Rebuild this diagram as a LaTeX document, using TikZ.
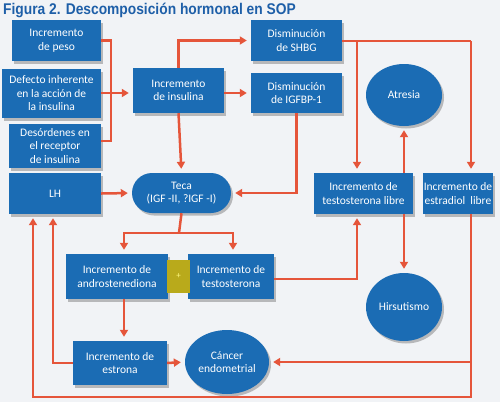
\documentclass[tikz,border=0pt]{standalone}
\usepackage{fontspec}
\usepackage{graphicx}
\setmainfont{Carlito}
\newfontfamily\titlefont{Liberation Sans}
\usetikzlibrary{arrows.meta,shadows,shapes.geometric,calc}
\definecolor{bg}{HTML}{F1F3F6}
\definecolor{boxblue}{HTML}{1B6CB4}
\definecolor{lineor}{HTML}{E5553A}
\definecolor{plusy}{HTML}{B9AA1B}
\definecolor{titleblue}{HTML}{1E5FA8}
\tikzset{
  box/.style={fill=boxblue, text=white, align=center, inner sep=1pt,
    font=\fontsize{11.5}{13.5}\selectfont,
    drop shadow={shadow xshift=2pt, shadow yshift=-2.5pt, opacity=0.35, fill=black!70}},
  oval/.style={box, ellipse},
  conn/.style={draw=lineor, line width=2.5pt},
  arr/.style={conn, -{Triangle[length=7pt,width=8pt]}, shorten >=4pt},
}
\begin{document}
\begin{tikzpicture}[x=1pt,y=-1pt]
\fill[bg] (0,0) rectangle (500,402);
\useasboundingbox (0,0) rectangle (500,402);
\node[anchor=west, text=titleblue, inner sep=0pt] (title) at (3,10)
  {\scalebox{0.89}[1]{\titlefont\bfseries\fontsize{15.5}{17}\selectfont Figura 2. Descomposición hormonal en SOP}};

% boxes
\node[box, minimum width=89pt, minimum height=41pt] (peso) at (56.5,40.5) {Incremento\\de peso};
\node[box, minimum width=99pt, minimum height=49pt] (defecto) at (51.5,93.5) {Defecto inherente\\en la acción de\\la insulina};
\node[box, minimum width=92pt, minimum height=44pt] (desord) at (55,146) {Desórdenes en\\el receptor\\de insulina};
\node[box, minimum width=92pt, minimum height=41pt] (LH) at (55,193.5) {LH};
\node[box, minimum width=91pt, minimum height=45pt] (insulina) at (178.5,90.5) {Incremento\\de insulina};
\node[box, minimum width=91pt, minimum height=41pt] (shbg) at (296.5,40.5) {Disminución\\de SHBG};
\node[box, minimum width=91pt, minimum height=40pt] (igfbp) at (296.5,93) {Disminución\\de IGFBP-1};
\node[oval, minimum width=76pt, minimum height=62pt] (atresia) at (404,95) {Atresia};
\node[box, rounded corners=20pt, minimum width=99pt, minimum height=40pt] (teca) at (181.5,193) {Teca\\(IGF -II, ?IGF -I)};
\node[box, minimum width=99pt, minimum height=41pt] (tlibre) at (363.5,193.5) {Incremento de\\testosterona libre};
\node[box, minimum width=70pt, minimum height=41pt] (elibre) at (458,193.5) {Incremento de\\estradiol\ \ libre};
\node[box, minimum width=102pt, minimum height=45pt] (andro) at (117,276.5) {Incremento de\\androstenediona};
\node[box, minimum width=86pt, minimum height=45pt] (testo) at (231,276.5) {Incremento de\\testosterona};
\node[oval, minimum width=76pt, minimum height=68pt] (hirs) at (404,307) {Hirsutismo};
\node[box, minimum width=94pt, minimum height=44pt] (estrona) at (120,363) {Incremento de\\estrona};
\node[oval, minimum width=70pt, minimum height=64pt] (cancer) at (227,362) {Cáncer\\endometrial};
\node[fill=plusy, text=yellow!50, minimum width=23pt, minimum height=33pt, inner sep=0pt,
  font=\fontsize{9}{10}\selectfont] (plus) at (178.5,276.5) {+};

% junction coordinates
\coordinate (jtop) at (111,40.5);
\coordinate (jmid) at (111,93);
\coordinate (jbot) at (111,141);
\coordinate (s2) at (357,41);
\coordinate (s1) at (471,41);
\coordinate (e1) at (471,397);
\coordinate (e2) at (33,397);
\coordinate (e3) at (471,362);
\coordinate (t1) at (179,233);
\coordinate (ta) at (124,233);
\coordinate (tb) at (233,233);
\coordinate (l1) at (53,363);
\coordinate (p1) at (357,279);

% connectors
\draw[conn] (peso.east) -- (jtop) -- (jbot) -- (desord.east |- jbot);
\draw[conn] (defecto.east |- jmid) -- (jmid);
\draw[arr] (jmid) -- (insulina.west |- jmid);
\draw[arr] (insulina.north) |- (shbg.west);
\draw[arr] (insulina.east |- igfbp) -- (igfbp.west);
\draw[arr] (insulina.south) -- (teca.north);
\draw[arr] (LH.east) -- (teca.west);
\draw[arr] (igfbp.south) |- (teca.east);
\draw[conn] (shbg.east |- s1) -- (s1);
\draw[arr] (s1) -- (s1 |- elibre.north);
\draw[arr] (s2) -- (s2 |- tlibre.north);
\draw[arr] (tlibre.north -| atresia) -- (atresia.south);
\draw[arr] (tlibre.south -| hirs) -- (hirs.north);
\draw[arr] (s1 |- elibre.south) -- (e1) -- (e2) -- (e2 |- LH.south);
\draw[arr] (e3) -- (cancer.east);
\draw[conn] (teca.south) -- (t1);
\draw[arr] (t1) -- (ta) -- (ta |- andro.north);
\draw[arr] (t1) -- (tb) -- (tb |- testo.north);
\draw[arr] (ta |- andro.south) -- (ta |- estrona.north);
\draw[arr] (estrona.east) -- (cancer.west);
\draw[arr] (estrona.west) -- (l1) -- (l1 |- LH.south);
\draw[arr] (testo.east |- p1) -- (p1) -- (p1 |- tlibre.south);
\end{tikzpicture}
\end{document}
